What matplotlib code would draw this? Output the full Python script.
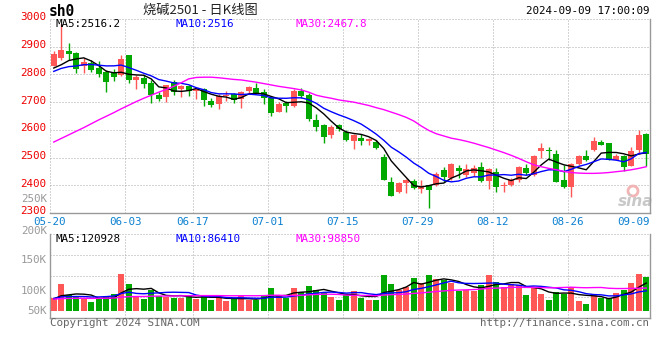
import numpy as np
import matplotlib
matplotlib.use("Agg")
import matplotlib.pyplot as plt
from matplotlib.transforms import ScaledTranslation
from matplotlib.patches import Ellipse

# ---------------- data ----------------
opens = [2832, 2858, 2883, 2876, 2831, 2843, 2823, 2809, 2804, 2797,
         2870, 2781, 2787, 2769, 2725, 2720, 2773, 2746, 2759, 2742,
         2746, 2704, 2692, 2722, 2728, 2710, 2742, 2750, 2737, 2714,
         2666, 2698, 2686, 2739, 2725, 2636, 2618, 2583, 2617, 2594,
         2561, 2570, 2560, 2557, 2502, 2413, 2374, 2407, 2417, 2388,
         2401, 2401, 2455, 2425, 2463, 2437, 2445, 2466, 2415, 2449,
         2398, 2401, 2419, 2463, 2437, 2524, 2526, 2514, 2419, 2393,
         2478, 2504, 2526, 2556, 2552, 2493, 2504, 2471, 2528, 2585]
highs = [2885, 2983, 2915, 2880, 2858, 2852, 2847, 2817, 2820, 2870,
         2870, 2799, 2799, 2781, 2737, 2763, 2781, 2763, 2763, 2754,
         2752, 2716, 2728, 2740, 2734, 2742, 2759, 2769, 2746, 2720,
         2699, 2704, 2748, 2751, 2734, 2656, 2621, 2618, 2621, 2600,
         2585, 2585, 2571, 2564, 2514, 2431, 2413, 2421, 2421, 2419,
         2401, 2449, 2466, 2480, 2473, 2478, 2473, 2484, 2461, 2461,
         2413, 2425, 2469, 2478, 2509, 2551, 2538, 2526, 2473, 2482,
         2509, 2526, 2573, 2565, 2552, 2514, 2508, 2538, 2601, 2589]
lows = [2829, 2852, 2852, 2805, 2805, 2809, 2791, 2737, 2777, 2793,
        2770, 2749, 2752, 2698, 2704, 2700, 2724, 2718, 2722, 2710,
        2686, 2683, 2674, 2704, 2698, 2680, 2734, 2728, 2695, 2650,
        2665, 2665, 2682, 2715, 2633, 2597, 2553, 2571, 2597, 2561,
        2532, 2544, 2544, 2532, 2419, 2360, 2371, 2371, 2386, 2371,
        2317, 2397, 2413, 2419, 2425, 2431, 2433, 2413, 2386, 2374,
        2374, 2397, 2413, 2437, 2433, 2500, 2490, 2413, 2390, 2357,
        2473, 2487, 2522, 2544, 2490, 2490, 2452, 2469, 2514, 2469]
closes = [2873, 2887, 2874, 2820, 2845, 2817, 2803, 2773, 2791, 2855,
          2781, 2791, 2767, 2725, 2712, 2761, 2737, 2759, 2740, 2749,
          2706, 2689, 2722, 2725, 2709, 2737, 2755, 2734, 2714, 2662,
          2695, 2686, 2741, 2723, 2639, 2609, 2576, 2609, 2603, 2564,
          2583, 2559, 2567, 2535, 2419, 2360, 2407, 2419, 2389, 2395,
          2383, 2442, 2431, 2478, 2451, 2457, 2461, 2415, 2457, 2393,
          2401, 2419, 2466, 2443, 2506, 2534, 2524, 2413, 2393, 2478,
          2506, 2490, 2561, 2546, 2490, 2505, 2466, 2523, 2580, 2514]
volumes = [57100, 118800, 69000, 64600, 50000, 38100, 50000, 64600, 72100, 162900,
           117500, 64600, 52700, 89700, 64600, 60200, 57100, 57100, 64600, 52700,
           69000, 47000, 57100, 42600, 50000, 64600, 45600, 47000, 64600, 99900,
           64600, 57100, 99900, 82200, 108700, 91000, 82200, 61500, 47000, 72100,
           86600, 57100, 47000, 47000, 157200, 117500, 91000, 105600, 145300, 121900,
           157200, 138200, 133800, 123200, 86600, 91000, 86600, 111800, 157200, 126300,
           104300, 116200, 111800, 69000, 105600, 74700, 47000, 82200, 74700, 104300,
           42600, 30700, 72100, 57100, 57100, 79200, 89700, 123200, 162900, 149700]
# sessions before 05-20 (only needed to start the moving averages)
prior_closes = [2780, 2810, 2795, 2800, 2810, 2827, 2799, 2790, 2826]
prior_volumes = [45000, 52000, 40000, 47000, 55000, 43000, 50000, 46000, 52000, 48000,
                 44000, 51000, 49000, 53000, 45000, 47000, 50000, 46000, 54000, 53000,
                 50000, 55000, 60000, 52000, 58000, 48000, 50000, 45000, 55000]
# 30-day price moving average as drawn in the reference
ma30_price = [2556, 2569, 2582, 2595, 2608, 2622, 2636, 2649, 2662, 2676,
              2689, 2702, 2714, 2725, 2736, 2746, 2757, 2770, 2784, 2789,
              2790, 2790, 2788, 2785, 2782, 2780, 2776, 2772, 2767, 2762,
              2757, 2753, 2749, 2744, 2736, 2725, 2719, 2714, 2708, 2704,
              2700, 2694, 2688, 2680, 2673, 2664, 2655, 2645, 2632, 2614,
              2598, 2586, 2578, 2570, 2565, 2559, 2552, 2544, 2536, 2527,
              2518, 2508, 2497, 2485, 2474, 2467, 2461, 2456, 2450, 2446,
              2444, 2443, 2443, 2444, 2446, 2449, 2452, 2456, 2461, 2467]

tick_labels = ["05-20", "06-03", "06-17", "07-01", "07-15", "07-29", "08-12", "08-26", "09-09"]
tick_index = [0, 10, 19, 29, 39, 49, 59, 69, 79]
price_ticks = [2300, 2400, 2500, 2600, 2700, 2800, 2900, 3000]

title_text = "烧碱2501 - 日K线图"
code_text = "sh0"
time_text = "2024-09-09 17:00:09"
ma_price_texts = ["MA5:2516.2", "MA10:2516", "MA30:2467.8"]
ma_vol_texts = ["MA5:120928", "MA10:86410", "MA30:98850"]
vol_labels = ["250K", "200K", "150K", "100K", "50K"]
vol_label_y = [199, 231, 260, 291, 311]   # pixel rows where the reference prints them

# ---------------- style ----------------
RED = "#ff5656"
GREEN = "#00a800"
GRID = "#aaaaaa"
FRAME = "#999999"
MONO = "DejaVu Sans Mono"
FS = 7.8
DOT = (0, (1, 2))

W, H = 660, 360
fig = plt.figure(figsize=(6.6, 3.6), dpi=100)
fig.patch.set_facecolor("white")


def rect(x0, y0, x1, y1):
    return [x0 / W, 1 - y1 / H, (x1 - x0) / W, (y1 - y0) / H]


ax = fig.add_axes(rect(50, 19, 650, 213))
axv = fig.add_axes(rect(50, 234, 650, 318))

n = len(closes)
x = np.arange(n)
o = np.array(opens, float)
c = np.array(closes, float)
hi = np.array(highs, float)
lo = np.array(lows, float)
v = np.array(volumes, float)
up = c >= o
cols = np.where(up, RED, GREEN)

allc = np.array(prior_closes + closes, float)
allv = np.array(prior_volumes + volumes, float)


def roll(a, k, keep):
    out = np.convolve(a, np.ones(k) / k, mode="valid")
    return out[-keep:]


ma5 = roll(allc, 5, n)
ma10 = roll(allc, 10, n)
vma5 = roll(allv, 5, n)
vma10 = roll(allv, 10, n)
vma30 = roll(allv, 30, n)

for a in (ax, axv):
    a.set_xlim(-0.5, n - 0.5)
    for s in a.spines.values():
        s.set_visible(False)
    a.tick_params(length=0)
    for ti in tick_index[1:-1]:
        a.axvline(ti - 0.5, color=GRID, lw=0.72, ls=DOT, zorder=0)

# ---------- price panel ----------
ax.set_ylim(2300, 3000)
for p in price_ticks[1:-1]:
    ax.axhline(p, color=GRID, lw=0.72, ls=DOT, zorder=0)
ax.plot([0, 1], [1, 1], transform=ax.transAxes, color=GRID, lw=0.72, ls=DOT, clip_on=False)
ax.plot([0, 0], [0, 1], transform=ax.transAxes, color=GRID, lw=0.72, ls=DOT, clip_on=False)
ax.plot([1, 1], [0, 1], transform=ax.transAxes, color=FRAME, lw=1.0, clip_on=False)
ax.plot([0, 1], [0, 0], transform=ax.transAxes, color=FRAME, lw=1.0, clip_on=False)

# sina watermark
ax.add_patch(Ellipse((583 / 600, 22 / 194), 10 / 600, 10 / 194, transform=ax.transAxes,
                     fill=False, ec="#f2b4b4", lw=2.0, zorder=1))
ax.text(586 / 600, 11 / 194, "sina", transform=ax.transAxes, color="#c8c8c8",
        fontsize=11, fontweight="bold", style="italic", family="DejaVu Sans",
        ha="center", va="center", zorder=1)

ax.vlines(x, lo, hi, colors=cols, lw=1.0, zorder=2)
body_h = np.maximum(np.abs(c - o), 1.2)
ax.bar(x, body_h, bottom=np.minimum(o, c), width=0.75, color=cols, lw=0, zorder=3)
ax.plot(x, ma5, color="black", lw=1.0, zorder=4)
ax.plot(x, ma10, color="#0000ff", lw=1.0, zorder=4)
ax.plot(x, ma30_price, color="#ff00ff", lw=1.0, zorder=4)

ax.set_yticks(price_ticks)
ax.set_yticklabels([str(p) for p in price_ticks], color="#ee0000", fontsize=FS,
                   family=MONO)
ax.tick_params(axis="y", pad=3)
for lab in ax.get_yticklabels():
    lab.set_transform(lab.get_transform() + ScaledTranslation(0, 2.5 / 100, fig.dpi_scale_trans))

tick_pos = [ti - 0.5 for ti in tick_index]
tick_pos[-1] = n - 0.5
ax.set_xticks(tick_pos)
ax.set_xticklabels(tick_labels, color="#0a80d0", fontsize=FS, family=MONO)
ax.get_xticklabels()[-1].set_horizontalalignment("right")
ax.tick_params(axis="x", pad=3)

ma_cols = ["black", "#0000ff", "#ff00ff"]
for txt, col, px in zip(ma_price_texts, ma_cols, (5, 125, 245)):
    ax.text(px / 600, 1 - 5 / 194, txt, transform=ax.transAxes, color=col,
            fontsize=FS, family=MONO, va="center", ha="left")

# ---------- volume panel ----------
axv.set_ylim(-33000, 337000)
for f in (0.25, 0.5, 0.75):
    axv.plot([0, 1], [f, f], transform=axv.transAxes, color=GRID, lw=0.72, ls=DOT, zorder=0)
axv.plot([0, 1], [1, 1], transform=axv.transAxes, color=GRID, lw=0.72, ls=DOT, clip_on=False)
axv.plot([0, 0], [0, 1], transform=axv.transAxes, color=FRAME, lw=1.0, clip_on=False)
axv.plot([1, 1], [0, 1], transform=axv.transAxes, color=FRAME, lw=1.0, clip_on=False)
axv.plot([0, 1], [0, 0], transform=axv.transAxes, color=FRAME, lw=1.0, clip_on=False)

axv.bar(x, v, width=0.75, color=cols, lw=0, zorder=2)
axv.plot(x, vma5, color="black", lw=1.0, zorder=3)
axv.plot(x, vma10, color="#0000ff", lw=1.0, zorder=3)
axv.plot(x, vma30, color="#ff00ff", lw=1.0, zorder=3)
axv.set_xticks([])
axv.set_yticks([])

for txt, col, px in zip(ma_vol_texts, ma_cols, (5, 125, 245)):
    axv.text(px / 600, 1 - 5 / 84, txt, transform=axv.transAxes, color=col,
             fontsize=FS, family=MONO, va="center", ha="left")

for lab, py in zip(vol_labels, vol_label_y):
    fig.text(47 / W, 1 - py / H, lab, color="#999999", fontsize=FS, family=MONO,
             ha="right", va="center")

# ---------- header / footer ----------
fig.text(49 / W, 1 - 12 / H, code_text, color="black", fontsize=10.5, fontweight="bold",
         family=MONO, ha="left", va="center")
fig.text(200 / W, 1 - 10 / H, title_text, color="#222222", fontsize=9.5,
         family=["Noto Sans CJK SC", "DejaVu Sans"], ha="center", va="center")
fig.text(649 / W, 1 - 11 / H, time_text, color="black", fontsize=FS, family=MONO,
         ha="right", va="center")
fig.text(50 / W, 1 - 323 / H, "Copyright 2024 SINA.COM", color="#666666", fontsize=FS,
         family=MONO, ha="left", va="center")
fig.text(649 / W, 1 - 323 / H, "http://finance.sina.com.cn", color="#666666",
         fontsize=FS, family=MONO, ha="right", va="center")

fig.savefig("out.png", dpi=100, facecolor="white")
